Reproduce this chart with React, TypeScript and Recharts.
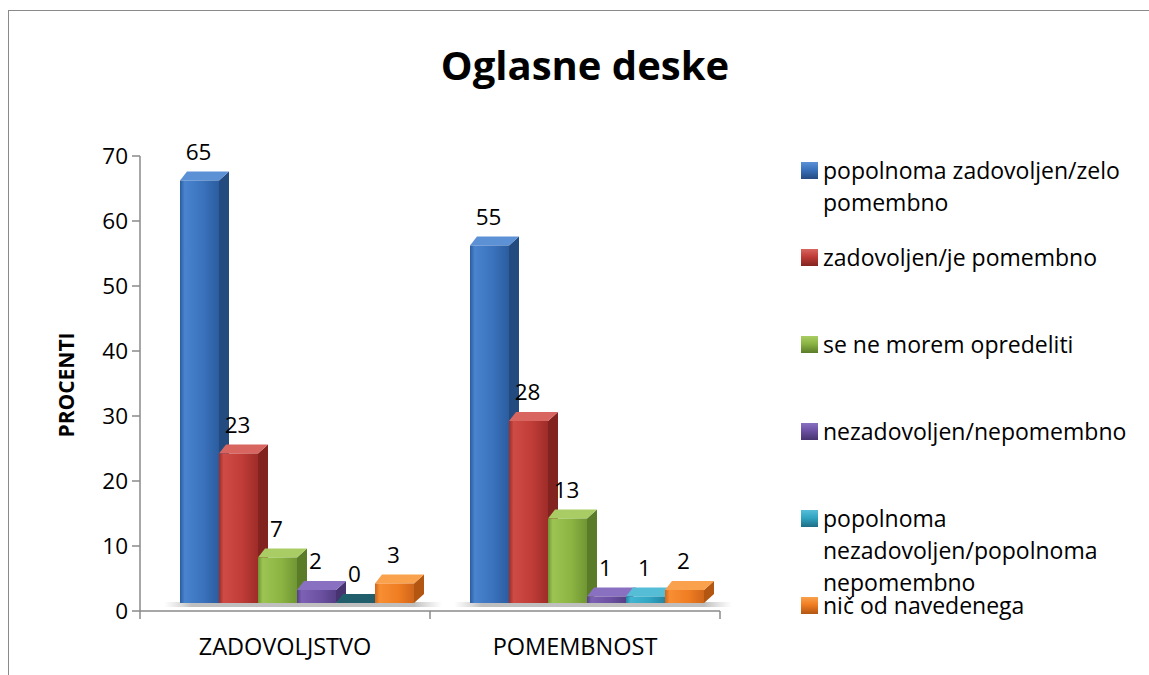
import React from 'react';
import { BarChart, Bar, XAxis, YAxis, LabelList } from 'recharts';

const categories = ['ZADOVOLJSTVO', 'POMEMBNOST'];
const seriesNames = [
  'popolnoma zadovoljen/zelo pomembno',
  'zadovoljen/je pomembno',
  'se ne morem opredeliti',
  'nezadovoljen/nepomembno',
  'popolnoma nezadovoljen/popolnoma nepomembno',
  'nič od navedenega',
];
const popolnomaZadovoljen = [65, 55];
const zadovoljen = [23, 28];
const neMoremOpredeliti = [7, 13];
const nezadovoljen = [2, 1];
const popolnomaNezadovoljen = [0, 1];
const nicOdNavedenega = [3, 2];
const yTicks = [0, 10, 20, 30, 40, 50, 60, 70];

const seriesValues = [
  popolnomaZadovoljen,
  zadovoljen,
  neMoremOpredeliti,
  nezadovoljen,
  popolnomaNezadovoljen,
  nicOdNavedenega,
];

const data = categories.map((c, i) => {
  const row: any = { category: c };
  seriesValues.forEach((vals, s) => {
    row['s' + s] = vals[i];
  });
  return row;
});

const palette = [
  { front: '#3A72BC', light: '#4A84CE', dark: '#2B5C9F', side: '#244B80', top: '#5C91D6', zero: '#1F3F6E' },
  { front: '#BF3C37', light: '#CF4C46', dark: '#9E2C28', side: '#822320', top: '#D8655F', zero: '#6E1E1B' },
  { front: '#8BB443', light: '#9BC453', dark: '#6F9633', side: '#5A7B28', top: '#A9CD64', zero: '#4A6621' },
  { front: '#6C51A2', light: '#7C61B4', dark: '#563F86', side: '#47336F', top: '#8A70C0', zero: '#3A2A5C' },
  { front: '#31A5C3', light: '#43B5D2', dark: '#2386A2', side: '#1D6D84', top: '#56BDD7', zero: '#1F5E6A' },
  { front: '#F07D22', light: '#F88E33', dark: '#D0661A', side: '#B25612', top: '#F9A14C', zero: '#8E4510' },
];

const FONT = '"Open Sans", sans-serif';
const SHIFT = 11;
const RAISE = 8;
const DEPTH_X = 10;
const DEPTH_Y = 9;
const AXIS = '#8a8a8a';

const make3DShape = (si: number) => (props: any) => {
  const { x, y, width, height } = props;
  const c = palette[si];
  const X = Number(x) + SHIFT;
  const w = Number(width);
  const top = Number(y) - RAISE;
  const base = Number(y) + Number(height) - RAISE;
  const h = base - top;
  const sidePts = `${X + w},${top} ${X + w + DEPTH_X},${top - DEPTH_Y} ${X + w + DEPTH_X},${base - DEPTH_Y} ${X + w},${base}`;
  const topPts = `${X},${top} ${X + DEPTH_X * 0.7},${top - DEPTH_Y} ${X + w + DEPTH_X},${top - DEPTH_Y} ${X + w},${top}`;
  return (
    <g>
      {si === 0 && (
        <rect
          x={X - 16}
          y={base - 1}
          width={w * 6 + DEPTH_X + 34}
          height={5}
          fill="url(#floorShadow)"
        />
      )}
      {h > 0 ? (
        <>
          <polygon points={sidePts} fill={c.side} />
          <polygon points={topPts} fill={c.top} />
          <rect x={X} y={top} width={w} height={h} fill={`url(#front${si})`} />
        </>
      ) : (
        <polygon points={topPts} fill={c.zero} />
      )}
    </g>
  );
};

const renderLabel = (props: any) => {
  const { x, y, width, value } = props;
  return (
    <text
      x={Number(x) + SHIFT + Number(width) / 2 - 1}
      y={Number(y) - RAISE - 21}
      textAnchor="middle"
      fontSize={22.5}
      fontFamily={FONT}
      fill="#000"
    >
      {value}
    </text>
  );
};

const XTick = (props: any) => {
  const { x, y, payload, index } = props;
  const half = payload && payload.offset != null ? payload.offset : 0;
  const isLast = index === categories.length - 1;
  return (
    <g>
      <line x1={x - half} x2={x - half} y1={y} y2={y + 8} stroke={AXIS} strokeWidth={1.5} />
      {isLast && <line x1={x + half} x2={x + half} y1={y} y2={y + 8} stroke={AXIS} strokeWidth={1.5} />}
      <text x={x} y={y + 44} textAnchor="middle" fontSize={23.5} fontFamily={FONT} fill="#000">
        {payload.value}
      </text>
    </g>
  );
};

export default function App() {
  return (
    <div style={{ position: 'absolute', left: 0, top: 0, width: 1149, height: 675, overflow: 'hidden', background: '#fff' }}>
      <div
        style={{
          position: 'absolute',
          left: 8,
          top: 10,
          width: 1160,
          height: 700,
          border: '1.5px solid #8a8a8a',
          boxSizing: 'border-box',
        }}
      />
      <div style={{ position: 'absolute', left: 0, top: 0 }}>
        <BarChart
          width={1149}
          height={675}
          data={data}
          margin={{ top: 156, right: 429, bottom: 14, left: 80 }}
          barCategoryGap={29}
          barGap={0}
        >
          <defs>
            {palette.map((c, i) => (
              <linearGradient key={i} id={`front${i}`} x1="0" y1="0" x2="1" y2="0">
                <stop offset="0%" stopColor={c.dark} />
                <stop offset="12%" stopColor={c.light} />
                <stop offset="60%" stopColor={c.front} />
                <stop offset="100%" stopColor={c.dark} />
              </linearGradient>
            ))}
            <linearGradient id="floorShadow" x1="0" y1="0" x2="1" y2="0">
              <stop offset="0%" stopColor="#c8c8c8" stopOpacity={0} />
              <stop offset="10%" stopColor="#b8b8b8" stopOpacity={0.9} />
              <stop offset="90%" stopColor="#b8b8b8" stopOpacity={0.9} />
              <stop offset="100%" stopColor="#c8c8c8" stopOpacity={0} />
            </linearGradient>
          </defs>
          <XAxis
            dataKey="category"
            height={50}
            tickSize={0}
            tickMargin={0}
            tickLine={false}
            axisLine={{ stroke: AXIS, strokeWidth: 1.5 }}
            tick={<XTick />}
            interval={0}
          />
          <YAxis
            width={60}
            domain={[0, 70]}
            ticks={yTicks}
            interval={0}
            tickSize={8}
            tickMargin={4}
            axisLine={{ stroke: AXIS, strokeWidth: 1.5 }}
            tickLine={{ stroke: AXIS, strokeWidth: 1.5 }}
            tick={{ fill: '#000', fontSize: 22.5, fontFamily: FONT }}
          />
          {seriesNames.map((name, si) => (
            <Bar
              key={si}
              dataKey={'s' + si}
              name={name}
              fill={palette[si].front}
              shape={make3DShape(si)}
              isAnimationActive={false}
            >
              <LabelList dataKey={'s' + si} content={renderLabel} />
            </Bar>
          ))}
        </BarChart>
      </div>
      <svg
        width={1149}
        height={675}
        style={{ position: 'absolute', left: 0, top: 0, pointerEvents: 'none' }}
      >
        <text x={585} y={80} textAnchor="middle" fontSize={40} fontWeight="bold" fontFamily={FONT} fill="#000">
          Oglasne deske
        </text>
        <text
          transform="translate(74,385) rotate(-90)"
          textAnchor="middle"
          fontSize={21}
          fontWeight="bold"
          fontFamily={FONT}
          fill="#000"
        >
          PROCENTI
        </text>
      </svg>
      {seriesNames.map((name, i) => {
        const c = palette[i];
        return (
          <div
            key={i}
            style={{ position: 'absolute', left: 801, top: 153.5 + 87 * i, width: 345, height: 33 }}
          >
            <div
              style={{
                position: 'absolute',
                left: 0,
                top: 8,
                width: 17,
                height: 17,
                background: `linear-gradient(180deg, ${c.top} 0%, ${c.front} 45%, ${c.side} 100%)`,
              }}
            />
            <div
              style={{
                position: 'absolute',
                left: 22,
                top: 0,
                width: 320,
                fontFamily: FONT,
                fontSize: 23,
                lineHeight: '32px',
                color: '#000',
                whiteSpace: 'normal',
              }}
            >
              {name}
            </div>
          </div>
        );
      })}
    </div>
  );
}
